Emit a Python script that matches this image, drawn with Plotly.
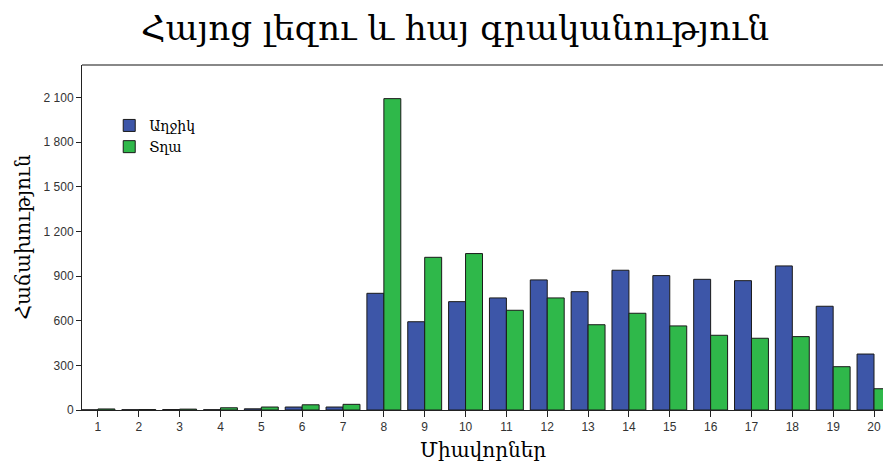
import plotly.graph_objects as go

categories = list(range(1, 21))
series_names = ["Աղջիկ", "Տղա"]
girls = [1, 2, 3, 2, 8, 20, 20, 784, 593, 728, 753, 874, 795, 939, 903, 878, 869, 968, 697, 376]
boys = [7, 3, 6, 15, 20, 35, 38, 2092, 1026, 1051, 670, 753, 573, 650, 565, 502, 482, 493, 291, 143]
ytick_vals = [0, 300, 600, 900, 1200, 1500, 1800, 2100]
ytick_text = ["0", "300", "600", "900", "1 200", "1 500", "1 800", "2 100"]
title_text = "Հայոց լեզու և հայ գրականություն"
x_title = "Միավորներ"
y_title = "Հաճախություն"

serif = "DejaVu Serif, serif"
sans = "Liberation Sans, Arial, sans-serif"

fig = go.Figure()
fig.add_trace(go.Bar(x=categories, y=girls, name=series_names[0],
                     marker=dict(color="#3d56a8", line=dict(color="#1a1a1a", width=1))))
fig.add_trace(go.Bar(x=categories, y=boys, name=series_names[1],
                     marker=dict(color="#2fb84a", line=dict(color="#1a1a1a", width=1))))

fig.update_layout(
    width=883, height=468,
    margin=dict(l=82, r=0, t=65, b=58, autoexpand=False),
    paper_bgcolor="white", plot_bgcolor="white",
    barmode="group", bargap=0.17, bargroupgap=0,
    legend=dict(x=0.034, y=0.87, xanchor="left", yanchor="top",
                font=dict(family=serif, size=14, color="black"),
                bgcolor="rgba(0,0,0,0)", itemwidth=30, tracegroupgap=0),
    showlegend=True,
)
fig.add_annotation(text=title_text, xref="paper", yref="paper", x=0.466, y=1.0, yshift=37,
                   xanchor="center", yanchor="middle", showarrow=False,
                   font=dict(family=serif, size=34, color="black"))
fig.add_annotation(text=x_title, xref="paper", yref="paper", x=0.5, y=0, yshift=-40,
                   xanchor="center", yanchor="middle", showarrow=False,
                   font=dict(family=serif, size=20, color="black"))
fig.add_annotation(text=y_title, xref="paper", yref="paper", x=0, y=0.5, xshift=-60,
                   xanchor="center", yanchor="middle", showarrow=False, textangle=-90,
                   font=dict(family=serif, size=20, color="black"))
fig.update_xaxes(
    automargin=False,
    range=[0.61, 20.22], tickmode="array", tickvals=categories,
    ticktext=[str(c) for c in categories],
    ticks="outside", ticklen=6, tickcolor="#222", showline=True, linecolor="#222", linewidth=1,
    showgrid=False, zeroline=False,
    tickfont=dict(family=sans, size=12, color="#333"),
)
fig.update_yaxes(
    automargin=False,
    range=[0, 2318], tickmode="array", tickvals=ytick_vals, ticktext=ytick_text,
    ticks="outside", ticklen=5, tickcolor="#222", showline=True, linecolor="#222", linewidth=1,
    showgrid=False, zeroline=False,
    tickfont=dict(family=sans, size=12, color="#333"),
)
fig.add_shape(type="line", xref="paper", yref="paper", x0=0, x1=1, y0=1, y1=1,
              line=dict(color="#888", width=2))
fig.write_html("out.html", config={"displayModeBar": False},
               post_script="document.body.style.margin='0';document.body.style.overflow='hidden';")
